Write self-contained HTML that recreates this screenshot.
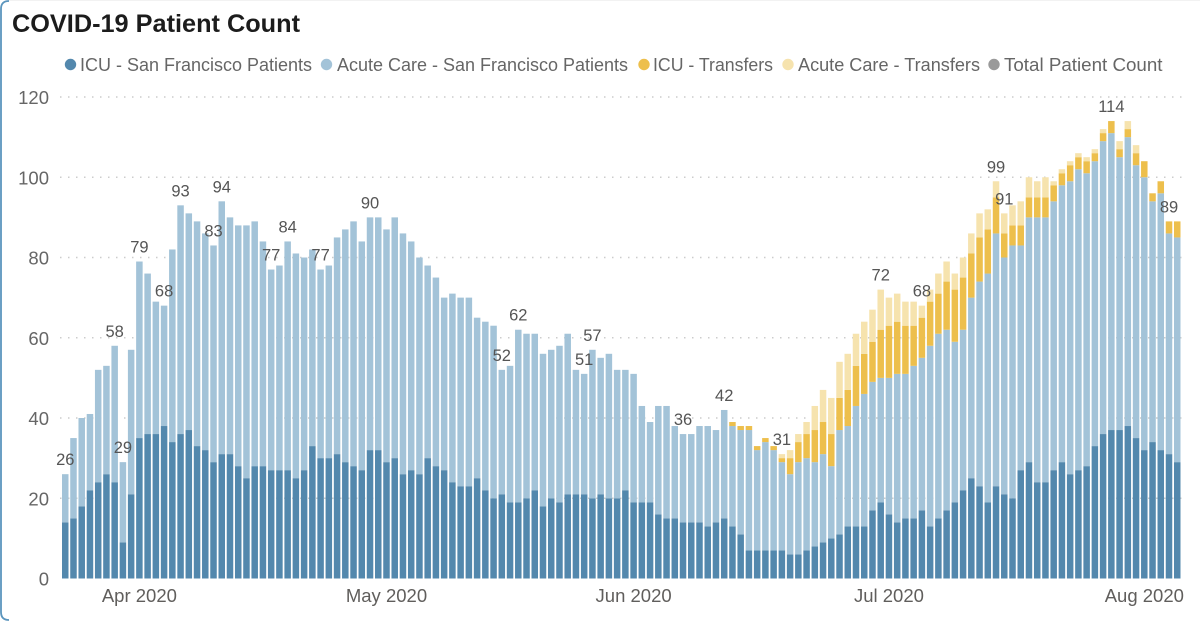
<!DOCTYPE html>
<html lang="en">
<head>
<meta charset="utf-8">
<title>COVID-19 Patient Count</title>
<style>
  html, body { margin: 0; padding: 0; background: #fff; }
  body { width: 1200px; height: 621px; overflow: hidden; }
  svg { display: block; font-family: "Liberation Sans", "DejaVu Sans", sans-serif; }
  .legend-text { font-size: 18.8px; fill: #666; }
  .tick-y { font-size: 18.5px; fill: #666; text-anchor: end; }
  .tick-x { font-size: 18.5px; fill: #605e5c; text-anchor: middle; }
  .data-label { font-size: 16.5px; fill: #555; text-anchor: middle; }
</style>
</head>
<body>
<svg id="chart" width="1200" height="621" viewBox="0 0 1200 621" xmlns="http://www.w3.org/2000/svg">
  <path d="M9 1 Q1 1 1 9 L1 612 Q1 620 9 620" fill="none" stroke="#5b95bd" stroke-width="1.8"/>
  <path d="M9 0.5 L1200 0.5" fill="none" stroke="#f2f2f2" stroke-width="1"/>
  <text x="12" y="32" font-size="25" font-weight="700" fill="#1c1c1c" textLength="288" lengthAdjust="spacingAndGlyphs">COVID-19 Patient Count</text>

  <g>
    <g>
      <circle cx="70.5" cy="64.5" r="5.7" fill="#5388ad"/>
      <text class="legend-text" x="80" y="71" textLength="232" lengthAdjust="spacingAndGlyphs">ICU - San Francisco Patients</text>
    </g>
    <g>
      <circle cx="326.5" cy="64.5" r="5.7" fill="#a3c3d8"/>
      <text class="legend-text" x="337" y="71" textLength="291" lengthAdjust="spacingAndGlyphs">Acute Care - San Francisco Patients</text>
    </g>
    <g>
      <circle cx="644" cy="64.5" r="5.7" fill="#edbf4c"/>
      <text class="legend-text" x="653" y="71" textLength="120" lengthAdjust="spacingAndGlyphs">ICU - Transfers</text>
    </g>
    <g>
      <circle cx="788" cy="64.5" r="5.7" fill="#f6e3ae"/>
      <text class="legend-text" x="798" y="71" textLength="182" lengthAdjust="spacingAndGlyphs">Acute Care - Transfers</text>
    </g>
    <g>
      <circle cx="994" cy="64.5" r="5.7" fill="#9a9a9a"/>
      <text class="legend-text" x="1004" y="71" textLength="158.5" lengthAdjust="spacingAndGlyphs">Total Patient Count</text>
    </g>
  </g>

  <g id="grid"></g>
  <g id="y-ticks"></g>
  <g id="x-ticks"></g>
  <g id="bars"></g>
  <g id="labels"></g>
</svg>

<script>
const icuSf = [14,15,18,22,24,26,24,9,21,35,36,36,38,34,36,37,33,32,29,31,31,28,25,28,28,27,27,27,25,27,33,30,30,31,29,28,27,32,32,29,30,26,27,26,30,28,27,24,23,23,25,22,20,21,19,19,20,22,18,20,19,21,21,21,20,21,20,20,22,19,19,19,16,15,15,14,14,14,13,14,15,13,11,7,7,7,7,7,6,6,7,8,9,10,11,13,13,13,17,19,16,14,15,15,17,13,15,17,19,22,25,23,19,23,21,20,27,29,24,24,27,29,26,27,28,33,36,37,37,38,35,32,34,32,31,29];
const acuteSf = [12,20,22,19,28,27,34,20,36,44,40,33,30,48,57,54,56,54,54,63,59,60,63,61,56,50,51,57,56,53,49,47,48,54,58,61,57,58,58,58,60,60,57,54,48,47,43,47,47,47,40,42,43,31,34,43,41,39,38,37,39,40,31,30,37,34,36,32,30,32,24,20,27,28,23,22,22,24,25,23,27,25,26,30,25,27,25,22,20,23,23,21,22,18,26,25,30,33,32,31,34,37,36,38,38,45,46,45,40,40,45,51,57,63,59,63,56,61,66,66,67,69,73,75,73,71,73,74,68,72,68,68,60,64,55,56];
const icuTransfers = [0,0,0,0,0,0,0,0,0,0,0,0,0,0,0,0,0,0,0,0,0,0,0,0,0,0,0,0,0,0,0,0,0,0,0,0,0,0,0,0,0,0,0,0,0,0,0,0,0,0,0,0,0,0,0,0,0,0,0,0,0,0,0,0,0,0,0,0,0,0,0,0,0,0,0,0,0,0,0,0,0,1,1,1,1,1,1,1,4,5,6,8,8,8,8,9,10,10,10,12,13,13,12,10,10,11,10,12,13,13,11,11,11,9,6,5,5,5,5,5,4,3,4,3,3,2,2,3,2,2,3,4,2,3,3,4];
const acuteTransfers = [0,0,0,0,0,0,0,0,0,0,0,0,0,0,0,0,0,0,0,0,0,0,0,0,0,0,0,0,0,0,0,0,0,0,0,0,0,0,0,0,0,0,0,0,0,0,0,0,0,0,0,0,0,0,0,0,0,0,0,0,0,0,0,0,0,0,0,0,0,0,0,0,0,0,0,0,0,0,0,0,0,0,0,0,0,0,0,1,2,2,3,6,8,9,9,9,8,8,8,10,7,7,6,6,3,3,5,5,4,5,5,6,5,4,5,5,6,5,4,5,1,1,1,1,1,1,1,0,2,2,2,0,0,0,0,0];
const labelledBars = [0,6,7,9,12,14,18,19,25,27,31,37,53,55,63,64,75,80,87,99,104,113,114,127,134];
const yTickValues = [0,20,40,60,80,100,120];
const monthLabels = ["Apr 2020","May 2020","Jun 2020","Jul 2020","Aug 2020"];
const monthBarIndex = [9,39,69,100,131];

const NS = "http://www.w3.org/2000/svg";
const barStart = 62, barPitch = 8.237, barWidth = 6.5;
const yZero = 578.5, yMax = 97, yDomain = 120;
const gridLeft = 60, gridRight = 1185;

function yScale(v) { return yZero - (v / yDomain) * (yZero - yMax); }
function xScale(i) { return barStart + i * barPitch; }
function make(tag, parent, attrs) {
  const el = document.createElementNS(NS, tag);
  for (const k in attrs) el.setAttribute(k, attrs[k]);
  parent.appendChild(el);
  return el;
}

const seriesList = [
  { key: "icu-sf", values: icuSf, color: "#5388ad" },
  { key: "acute-sf", values: acuteSf, color: "#a3c3d8" },
  { key: "icu-transfers", values: icuTransfers, color: "#edbf4c" },
  { key: "acute-transfers", values: acuteTransfers, color: "#f6e3ae" }
];

const gridG = document.getElementById("grid");
const yG = document.getElementById("y-ticks");
yTickValues.forEach(function (t) {
  if (t > 0) {
    const line = make("line", gridG, { x1: gridLeft, x2: gridRight, y1: yScale(t), y2: yScale(t), stroke: "#cccccc", "stroke-width": 1.5, "stroke-dasharray": "1.5 6.5" });
    
    
  }
  const label = make("text", yG, { class: "tick-y", x: 49, y: yScale(t) + 7 });
  
  
  label.textContent = t;
});

const xG = document.getElementById("x-ticks");
monthLabels.forEach(function (m, j) {
  const label = make("text", xG, { class: "tick-x", x: xScale(monthBarIndex[j]) + barWidth / 2, y: 602 });
  
  
  label.textContent = m;
});

const barsG = document.getElementById("bars");
const totals = icuSf.map(function (_, i) {
  let cumulative = 0;
  seriesList.forEach(function (s) {
    const v = s.values[i];
    if (v > 0) {
      const top = yScale(cumulative + v);
      const rect = make("rect", barsG, { x: xScale(i), y: top, width: barWidth, height: yScale(cumulative) - top, fill: s.color });
      
      
    }
    cumulative += v;
  });
  return cumulative;
});

const labelsG = document.getElementById("labels");
labelledBars.forEach(function (i) {
  const label = make("text", labelsG, { class: "data-label", x: xScale(i) + barWidth / 2, y: yScale(totals[i]) - 9 });
  
  
  label.textContent = totals[i];
});
</script>
</body>
</html>
